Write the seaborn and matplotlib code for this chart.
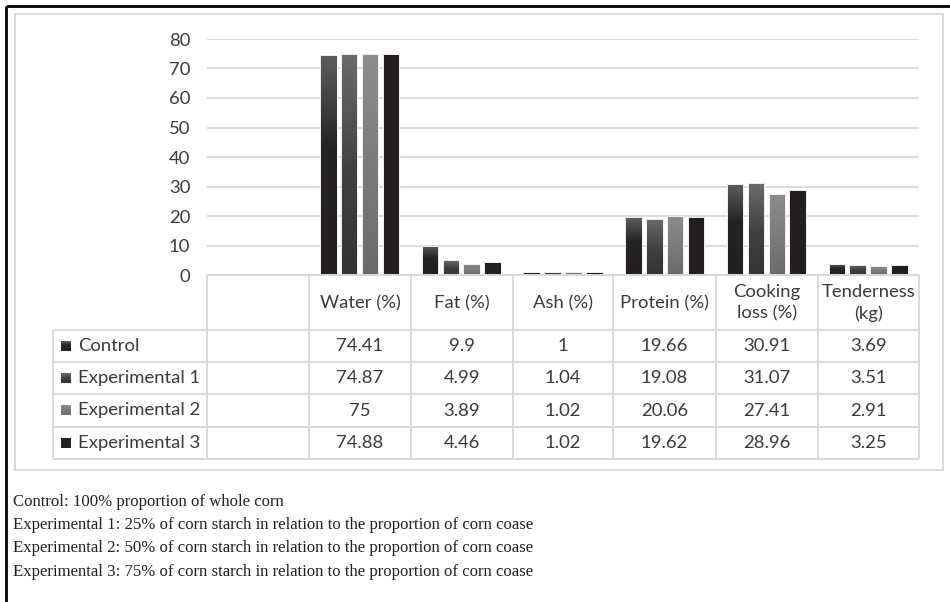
import numpy as np
import pandas as pd
import matplotlib
matplotlib.use("Agg")
import matplotlib.pyplot as plt
from matplotlib.colors import to_rgb
from matplotlib.patches import Rectangle
import seaborn as sns

# ---- data ---------------------------------------------------------------
attributes = ["Water (%)", "Fat (%)", "Ash (%)", "Protein (%)",
              "Cooking\nloss (%)", "Tenderness\n(kg)"]
groups = ["Control", "Experimental 1", "Experimental 2", "Experimental 3"]
control = [74.41, 9.9, 1, 19.66, 30.91, 3.69]
experimental_1 = [74.87, 4.99, 1.04, 19.08, 31.07, 3.51]
experimental_2 = [75, 3.89, 1.02, 20.06, 27.41, 2.91]
experimental_3 = [74.88, 4.46, 1.02, 19.62, 28.96, 3.25]
y_ticks = [0, 10, 20, 30, 40, 50, 60, 70, 80]
notes = [
    "Control: 100% proportion of whole corn",
    "Experimental 1: 25% of corn starch in relation to the proportion of corn coase",
    "Experimental 2: 50% of corn starch in relation to the proportion of corn coase",
    "Experimental 3: 75% of corn starch in relation to the proportion of corn coase",
]

series = [control, experimental_1, experimental_2, experimental_3]
df = pd.DataFrame({
    "Attribute": np.repeat([attributes], len(groups), axis=0).ravel(),
    "Group": np.repeat(groups, len(attributes)),
    "Value": np.concatenate(series),
})

# vertical gradient stops (top -> bottom) for each group
gradients = [
    [(0.0, "#5e5e5f"), (0.42, "#262324"), (1.0, "#231f20")],
    [(0.0, "#6b6b6c"), (0.55, "#3f3f40"), (1.0, "#343435")],
    [(0.0, "#8d8d8f"), (1.0, "#6b6b6d")],
    [(0.0, "#231f20"), (1.0, "#231f20")],
]
base_colors = ["#2c2929", "#4a4a4b", "#7c7c7e", "#231f20"]

W, H = 950, 602
TXT = "#3a3a3a"
GRID = "#d9d9d9"
FS = 13.3

sns.set_theme(style="white")
plt.rcParams["font.family"] = ["Lato", "DejaVu Sans"]

fig = plt.figure(figsize=(W / 100, H / 100), dpi=100)

# ---- bar chart ------------------------------------------------------------
x_left, x_right, y_top, y_zero = 207, 919, 39, 275
ax = fig.add_axes([x_left / W, 1 - y_zero / H, (x_right - x_left) / W,
                   (y_zero - y_top) / H])
sns.barplot(data=df, x="Attribute", y="Value", hue="Group", order=attributes,
            hue_order=groups, palette=base_colors, width=0.82, gap=0.2,
            edgecolor="#f2f2f2", linewidth=0.7, legend=False, ax=ax)


def gradient_image(stops, n=200):
    pos = np.linspace(0, 1, n)
    p = [s[0] for s in stops]
    cols = np.array([to_rgb(s[1]) for s in stops])
    img = np.stack([np.interp(pos, p, cols[:, c]) for c in range(3)], axis=-1)
    return img[:, None, :]


for cont, stops in zip(ax.containers, gradients):
    img = gradient_image(stops)
    for bar in cont:
        x0, y0 = bar.get_x(), bar.get_y()
        w, h = bar.get_width(), bar.get_height()
        im = ax.imshow(img, extent=[x0, x0 + w, y0, y0 + h], origin="upper",
                       aspect="auto", interpolation="bilinear",
                       zorder=bar.get_zorder() - 0.01)
        im.set_clip_path(bar)
        bar.set_facecolor("none")

ax.set_xlim(-1.5, len(attributes) - 0.5)
ax.set_ylim(0, 80)
ax.set_yticks(y_ticks)
ax.set_yticklabels([str(t) for t in y_ticks], color=TXT, fontsize=FS)
ax.tick_params(axis="y", length=0, pad=12)
ax.set_xticks([])
ax.set_xlabel("")
ax.set_ylabel("")
ax.set_axisbelow(True)
ax.yaxis.grid(True, color=GRID, linewidth=1.3)
for s in ax.spines.values():
    s.set_visible(False)
ax.patch.set_alpha(0)

# ---- overlay in pixel coordinates for frame, data table and notes -------
ov = fig.add_axes([0, 0, 1, 1], zorder=5)
ov.set_xlim(0, W)
ov.set_ylim(H, 0)
ov.axis("off")
ov.patch.set_alpha(0)

# outer black frame (left and top)
ov.plot([5.5, 5.5], [5.5, H], color="black", lw=2, solid_capstyle="butt")
ov.plot([5.5, W], [5.5, 5.5], color="black", lw=2, solid_capstyle="butt")
# chart area border
ov.add_patch(Rectangle((15, 14), 928, 456, fill=False, ec=GRID, lw=1.4))

# data table grid
col_edges = [207, 309, 411, 513, 613, 716, 818, 919]
row_edges = [275, 330, 362, 394, 427, 459]
label_left = 53
line_kw = dict(color=GRID, lw=1.4, solid_capstyle="butt")
ov.plot([col_edges[0], col_edges[-1]], [row_edges[0]] * 2, **line_kw)
for y in row_edges[1:]:
    ov.plot([label_left, col_edges[-1]], [y, y], **line_kw)
for x in col_edges:
    ov.plot([x, x], [row_edges[0], row_edges[-1]], **line_kw)
ov.plot([label_left, label_left], [row_edges[1], row_edges[-1]], **line_kw)

# header cells
for i, name in enumerate(attributes):
    cx = (col_edges[i + 1] + col_edges[i + 2]) / 2
    cy = (row_edges[0] + row_edges[1]) / 2 + 0.5
    ov.text(cx, cy, name, ha="center", va="center", color=TXT,
            fontsize=FS, linespacing=1.4)

# body rows: legend key + values
for r, (g, vals, stops) in enumerate(zip(groups, series, gradients)):
    cy = (row_edges[r + 1] + row_edges[r + 2]) / 2
    ov.imshow(gradient_image(stops), extent=[61, 71, cy + 5, cy - 5],
              aspect="auto", zorder=6)
    ov.text(78, cy, g, ha="left", va="center", color=TXT, fontsize=FS)
    for i, v in enumerate(vals):
        cx = (col_edges[i + 1] + col_edges[i + 2]) / 2
        ov.text(cx, cy, f"{v:g}", ha="center", va="center", color=TXT,
                fontsize=FS)
ov.set_xlim(0, W)
ov.set_ylim(H, 0)

# notes below the chart
for k, line in enumerate(notes):
    ov.text(13, 502 + 23.2 * k, line, ha="left", va="center",
            color="#231f20", fontsize=12.1, family="Liberation Serif")

fig.savefig("out.png", dpi=100, facecolor="white")
